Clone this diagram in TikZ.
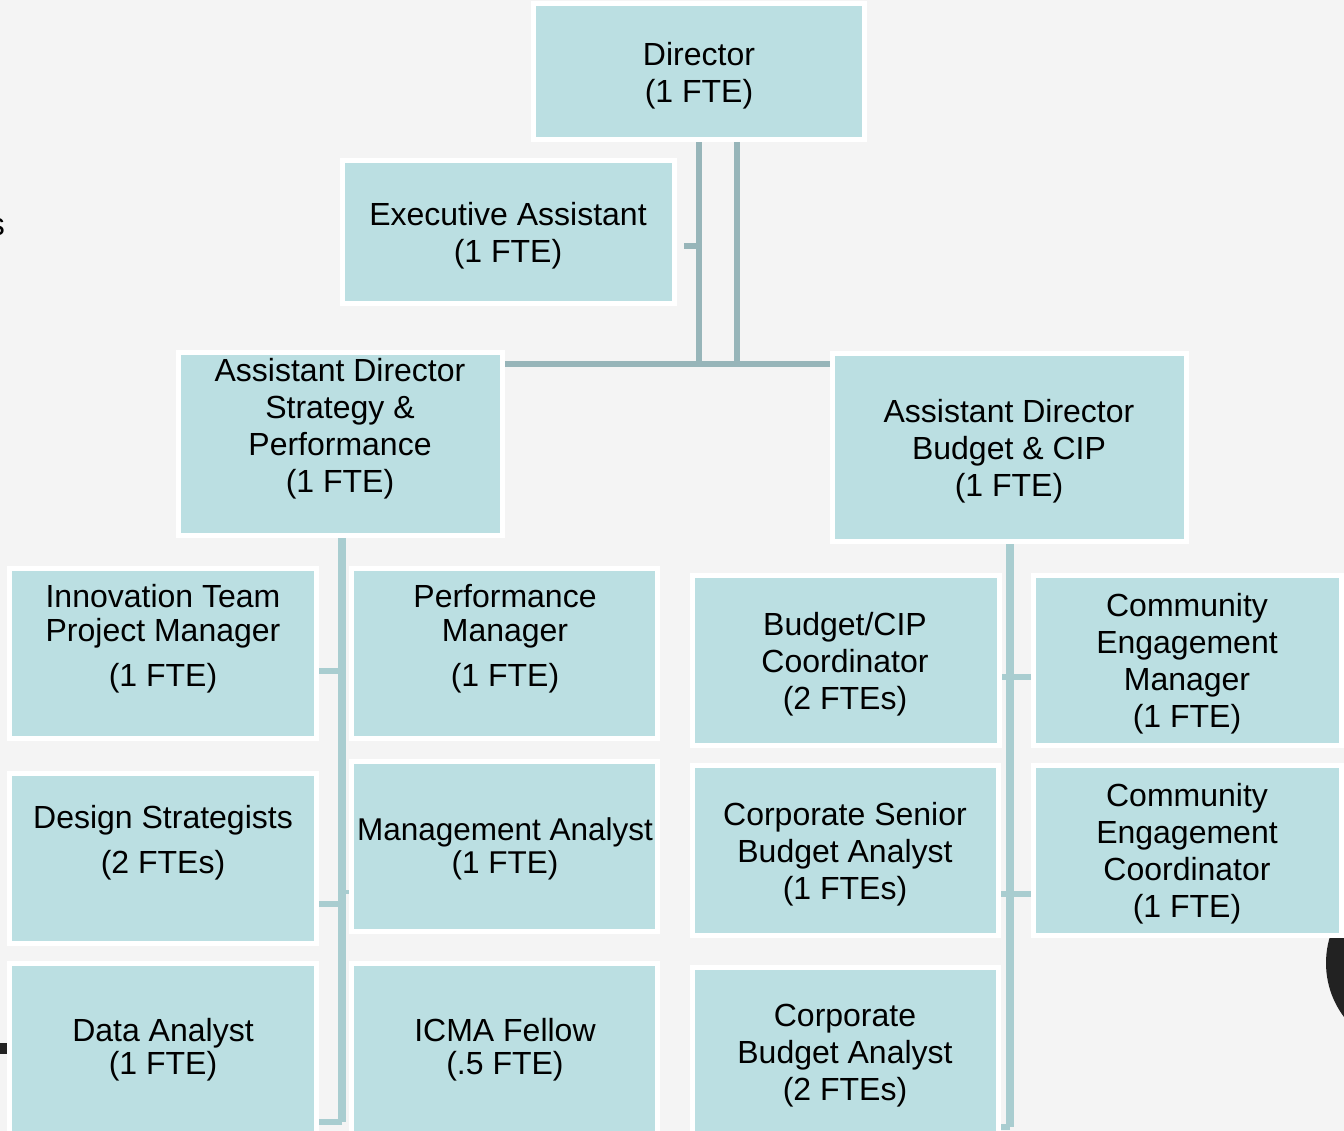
\documentclass[tikz,border=0pt]{standalone}
\usepackage{fontspec}
\setmainfont{Liberation Sans}
\usetikzlibrary{calc}
\definecolor{bgc}{HTML}{F4F4F4}
\definecolor{boxfill}{HTML}{BBDFE2}
\definecolor{upline}{HTML}{97B5B9}
\definecolor{lowline}{HTML}{A9CDD0}
\definecolor{blob}{HTML}{222222}
\pgfdeclarelayer{bg}
\pgfdeclarelayer{wires}
\pgfsetlayers{bg,wires,main}
\begin{document}
\begin{tikzpicture}[x=1pt,y=-1pt,
  orgbox/.style={rectangle, draw=white, line width=5pt, fill=boxfill, inner sep=0pt},
  txt/.style={font=\fontsize{32}{37}\selectfont, align=center, inner sep=0pt, text=black},
  upwire/.style={draw=upline, line width=6pt},
  spine/.style={draw=lowline, line width=8pt},
  tickw/.style={draw=lowline, line width=5.5pt}]
\useasboundingbox (0,0) rectangle (1344,1131);
\clip (0,0) rectangle (1344,1131);

% boxes
\node[orgbox, minimum width=331pt, minimum height=136pt] (dir) at (699,71.5) {};
\node[orgbox, minimum width=332pt, minimum height=143pt] (exec) at (508.5,232) {};
\node[orgbox, minimum width=324pt, minimum height=183pt] (ads) at (340.5,444) {};
\node[orgbox, minimum width=354pt, minimum height=188pt] (adb) at (1009.5,447.5) {};
\node[orgbox, minimum width=307pt, minimum height=170pt] (inn) at (163,653.5) {};
\node[orgbox, minimum width=306pt, minimum height=170pt] (pm) at (504.5,653.5) {};
\node[orgbox, minimum width=307pt, minimum height=170pt] (ds) at (163,858.5) {};
\node[orgbox, minimum width=306pt, minimum height=170pt] (ma) at (504.5,846.5) {};
\node[orgbox, minimum width=307pt, minimum height=179pt] (da) at (163,1053) {};
\node[orgbox, minimum width=306pt, minimum height=179pt] (icma) at (504.5,1053) {};
\node[orgbox, minimum width=307pt, minimum height=170pt] (bcip) at (846,660.5) {};
\node[orgbox, minimum width=308pt, minimum height=170pt] (cem) at (1187.5,660.5) {};
\node[orgbox, minimum width=306pt, minimum height=170pt] (csba) at (845.5,850.5) {};
\node[orgbox, minimum width=308pt, minimum height=170pt] (cec) at (1187.5,850.5) {};
\node[orgbox, minimum width=306pt, minimum height=175pt] (cba) at (845.5,1055) {};

% texts
\node[txt] (tdir) at (699,75.5) {Director\\(1 FTE)};
\node[txt] (texec) at (508,235.5) {Executive Assistant\\(1 FTE)};
\node[txt] (tads) at (340,429) {Assistant Director\\Strategy \&\\Performance\\(1 FTE)};
\node[txt] (tadb) at (1009,451) {Assistant Director\\Budget \& CIP\\(1 FTE)};
\node[txt] (tinn) at (163,638.5) {Innovation Team\\[-3pt]Project Manager\\[8pt](1 FTE)};
\node[txt] (tpm) at (505,638.5) {Performance\\[-3pt]Manager\\[8pt](1 FTE)};
\node[txt] (tds) at (163,842.5) {Design Strategists\\[8pt](2 FTEs)};
\node[txt, font=\fontsize{31.5}{37}\selectfont] (tma) at (505,848.5) {Management Analyst\\[-4pt](1 FTE)};
\node[txt] (tda) at (163,1049.5) {Data Analyst\\[-4pt](1 FTE)};
\node[txt] (ticma) at (505,1049.5) {ICMA Fellow\\[-4pt](.5 FTE)};
\node[txt] (tbcip) at (845,664) {Budget/CIP\\Coordinator\\(2 FTEs)};
\node[txt] (tcem) at (1187,664) {Community\\Engagement\\Manager\\(1 FTE)};
\node[txt] (tcsba) at (845,854) {Corporate Senior\\Budget Analyst\\(1 FTEs)};
\node[txt] (tcec) at (1187,853.5) {Community\\Engagement\\Coordinator\\(1 FTE)};
\node[txt] (tcba) at (845,1056) {Corporate\\Budget Analyst\\(2 FTEs)};
\node[txt, anchor=east] (frag) at (5,227) {s};

% junction coordinates
\coordinate (j1) at (699,367);
\coordinate (j2) at (737,367);
\coordinate (hy) at (699,364);
\coordinate (et) at (684,246);
\coordinate (lb) at (342,1122);
\coordinate (lt1) at (342,671);
\coordinate (lt2) at (342,904);
\coordinate (ms) at (349,892);
\coordinate (rb) at (1010,1127);
\coordinate (rt1) at (1010,677);
\coordinate (rt2) at (1010,894);

\begin{pgfonlayer}{bg}
  \fill[bgc] (0,0) rectangle (1344,1131);
  \fill[blob] (1416,963) circle [radius=90pt];
  \fill[blob] (0,1043) rectangle (7,1054);
\end{pgfonlayer}

\begin{pgfonlayer}{wires}
  \draw[upwire] (dir.south -| j1) -- (j1);
  \draw[upwire] (dir.south -| j2) -- (j2);
  \draw[upwire] (ads.east |- hy) -- (adb.west |- hy);
  \draw[upwire] (et) -- (et -| j1);
  \draw[spine] (ads.south -| lb) -- (lb);
  \draw[tickw] (lb) -- (lb -| da.east);
  \draw[tickw] (lt1 -| inn.east) -- (lt1);
  \draw[tickw] (lt2 -| ds.east) -- (lt2);
  \draw[draw=lowline, line width=4pt] (ms -| lb) -- (ms);
  \draw[spine] (adb.south -| rb) -- (rb);
  \draw[tickw] (rb) -- (rb -| cba.east);
  \draw[tickw] (bcip.east |- rt1) -- (cem.west |- rt1);
  \draw[tickw] (csba.east |- rt2) -- (cec.west |- rt2);
\end{pgfonlayer}
\end{tikzpicture}
\end{document}
